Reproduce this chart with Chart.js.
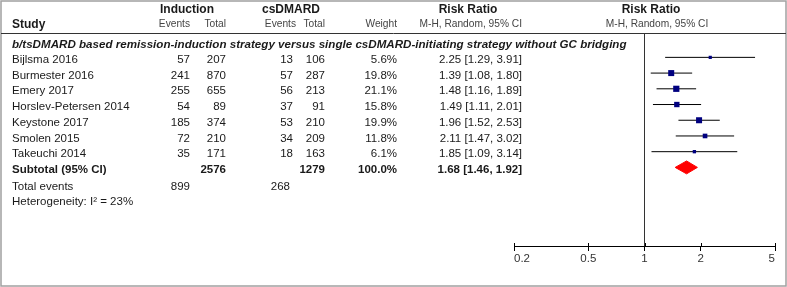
<!DOCTYPE html>
<html>
<head>
<meta charset="utf-8">
<style>
  html, body { margin: 0; padding: 0; background: #fff; }
  canvas { display: block; }
</style>
<script src="https://cdn.jsdelivr.net/npm/chart.js@4"></script>
</head>
<body>
<canvas id="forest" width="787" height="287"></canvas>
<script>
// study data
const studies = ['Bijlsma 2016', 'Burmester 2016', 'Emery 2017', 'Horslev-Petersen 2014', 'Keystone 2017', 'Smolen 2015', 'Takeuchi 2014'];
const indEvents = [57, 241, 255, 54, 185, 72, 35];
const indTotal = [207, 870, 655, 89, 374, 210, 171];
const csEvents = [13, 57, 56, 37, 53, 34, 18];
const csTotal = [106, 287, 213, 91, 210, 209, 163];
const weights = [5.6, 19.8, 21.1, 15.8, 19.9, 11.8, 6.1];
const rr = [2.25, 1.39, 1.48, 1.49, 1.96, 2.11, 1.85];
const lower = [1.29, 1.08, 1.16, 1.11, 1.52, 1.47, 1.09];
const upper = [3.91, 1.80, 1.89, 2.01, 2.53, 3.02, 3.14];

// subtotal
const pooled = [1.68, 1.46, 1.92];
const subTotals = [2576, 1279];
const totalEvents = [899, 268];
const heterogeneity = 'Heterogeneity: I\u00b2 = 23%';
const groupTitle = 'b/tsDMARD based remission-induction strategy versus single csDMARD-initiating strategy without GC bridging';

const xTicks = [0.2, 0.5, 1, 2, 5];

const FONT = '"Liberation Sans", Arial, sans-serif';
const subRow = studies.length + 1;

// whisker lines, one dataset per study
const whiskers = studies.map((s, i) => ({
    type: 'line',
    data: [{ x: lower[i], y: i + 1 }, { x: upper[i], y: i + 1 }],
    borderColor: '#000',
    borderWidth: 1,
    pointRadius: 0,
    order: 2
}));

const markers = {
    type: 'scatter',
    data: studies.map((s, i) => ({ x: rr[i], y: i + 1 })),
    pointStyle: 'rect',
    pointRadius: weights.map(w => 1.35 * Math.sqrt(w) / Math.SQRT2),
    backgroundColor: '#00007f',
    borderColor: '#00007f',
    borderWidth: 0,
    order: 1
};

const dh = 0.41;
const diamond = {
    type: 'line',
    data: [
        { x: pooled[1], y: subRow },
        { x: pooled[0], y: subRow - dh },
        { x: pooled[2], y: subRow },
        { x: pooled[0], y: subRow + dh },
        { x: pooled[1], y: subRow }
    ],
    borderColor: '#ff0000',
    backgroundColor: '#ff0000',
    borderWidth: 1,
    fill: 'shape',
    pointRadius: 0,
    tension: 0,
    order: 1
};

// table text and frame
const tablePlugin = {
    id: 'table',
    afterDraw(chart) {
        const ctx = chart.ctx;
        const ys = chart.scales.y;
        const xs = chart.scales.x;
        const rowY = r => ys.getPixelForValue(r) + 2.5;

        ctx.save();
        // frame
        ctx.strokeStyle = '#a0a0a0';
        ctx.lineWidth = 1.5;
        ctx.strokeRect(1, 1, 785, 285);
        // header rule
        ctx.strokeStyle = '#333';
        ctx.lineWidth = 1;
        ctx.beginPath();
        ctx.moveTo(1, 33.5);
        ctx.lineTo(786, 33.5);
        ctx.stroke();

        // small upward tick parts
        ctx.strokeStyle = '#000';
        xTicks.forEach(v => {
            const px = Math.round(xs.getPixelForValue(v)) + 0.5;
            ctx.beginPath();
            ctx.moveTo(px, xs.top - 3);
            ctx.lineTo(px, xs.top);
            ctx.stroke();
        });

        ctx.textBaseline = 'middle';
        const txt = (s, x, y, align, font, color) => {
            ctx.font = font;
            ctx.fillStyle = color || '#1a1a1a';
            ctx.textAlign = align;
            ctx.fillText(s, x, y);
        };
        const bold = 'bold 12px ' + FONT;
        const small = '10.2px ' + FONT;
        const reg = '11.5px ' + FONT;
        const regB = 'bold 11.5px ' + FONT;

        // headers
        txt('Induction', 160, 10, 'left', bold);
        txt('csDMARD', 262, 10, 'left', bold);
        txt('Risk Ratio', 468, 10, 'center', bold);
        txt('Risk Ratio', 651, 10, 'center', bold);
        txt('Study', 12, 25, 'left', bold);
        txt('Events', 190, 24, 'right', small, '#444');
        txt('Total', 226, 24, 'right', small, '#444');
        txt('Events', 296, 24, 'right', small, '#444');
        txt('Total', 325, 24, 'right', small, '#444');
        txt('Weight', 397, 24, 'right', small, '#444');
        txt('M-H, Random, 95% CI', 522, 24, 'right', small, '#444');
        txt('M-H, Random, 95% CI', 657, 24, 'center', small, '#444');

        txt(groupTitle, 12, 45, 'left', 'italic bold 11.6px ' + FONT);

        studies.forEach((s, i) => {
            const y = rowY(i + 1);
            txt(s, 12, y, 'left', reg);
            txt(String(indEvents[i]), 190, y, 'right', reg);
            txt(String(indTotal[i]), 226, y, 'right', reg);
            txt(String(csEvents[i]), 293, y, 'right', reg);
            txt(String(csTotal[i]), 325, y, 'right', reg);
            txt(weights[i].toFixed(1) + '%', 397, y, 'right', reg);
            txt(rr[i].toFixed(2) + ' [' + lower[i].toFixed(2) + ', ' + upper[i].toFixed(2) + ']', 522, y, 'right', reg);
        });

        let y = rowY(subRow) - 0.5;
        txt('Subtotal (95% CI)', 12, y, 'left', regB);
        txt(String(subTotals[0]), 226, y, 'right', regB);
        txt(String(subTotals[1]), 325, y, 'right', regB);
        txt('100.0%', 397, y, 'right', regB);
        txt(pooled[0].toFixed(2) + ' [' + pooled[1].toFixed(2) + ', ' + pooled[2].toFixed(2) + ']', 522, y, 'right', regB);

        y = rowY(subRow + 1) + 1.5;
        txt('Total events', 12, y, 'left', reg);
        txt(String(totalEvents[0]), 190, y, 'right', reg);
        txt(String(totalEvents[1]), 290, y, 'right', reg);

        y = rowY(subRow + 2);
        txt(heterogeneity, 12, y, 'left', reg);
        ctx.restore();
    }
};

new Chart(document.getElementById('forest'), {
    data: { datasets: [markers, diamond, ...whiskers] },
    options: {
        responsive: false,
        devicePixelRatio: 1,
        animation: false,
        layout: { padding: { left: 514, right: 12, top: 33, bottom: 0 } },
        plugins: { legend: { display: false }, tooltip: { enabled: false } },
        scales: {
            x: {
                type: 'logarithmic',
                min: 0.2,
                max: 5,
                afterBuildTicks: s => { s.ticks = xTicks.map(v => ({ value: v })); },
                afterFit: s => { s.height = 41; },
                border: { display: true, color: '#000', width: 1 },
                grid: {
                    drawOnChartArea: true,
                    color: c => (c.tick && c.tick.value === 1 ? '#333' : 'rgba(0,0,0,0)'),
                    tickColor: '#000',
                    tickLength: 5
                },
                ticks: {
                    align: 'inner',
                    padding: 1,
                    color: '#333',
                    font: { family: FONT, size: 11.5 },
                    callback: v => String(v),
                    maxRotation: 0,
                    autoSkip: false
                }
            },
            y: {
                type: 'linear',
                reverse: true,
                min: -0.55,
                max: 13.0,
                display: false
            }
        }
    },
    plugins: [tablePlugin]
});
</script>
</body>
</html>
